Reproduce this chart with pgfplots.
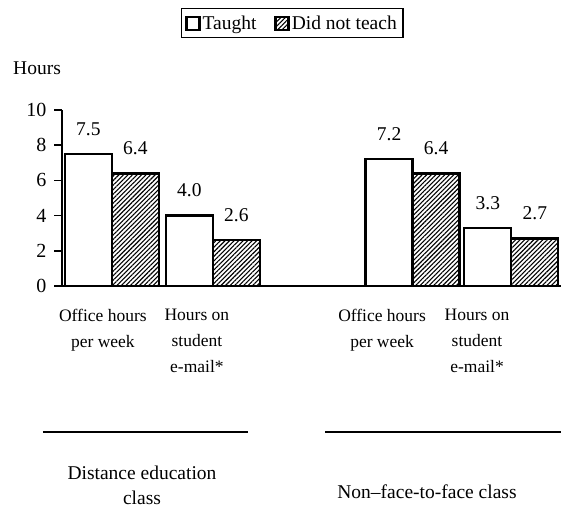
\documentclass[border=0pt]{standalone}
\usepackage{pgfplots}
\pgfplotsset{compat=1.18}
\usetikzlibrary{patterns.meta}
\usepackage{fontspec}
\setmainfont{Liberation Serif}

\begin{document}
\begin{tikzpicture}
\useasboundingbox (-62pt,-225pt) rectangle (499pt,286pt);
\begin{axis}[
  scale only axis, width=499pt, height=176pt,
  xmin=0, xmax=10.617, ymin=0, ymax=10,
  axis lines*=left,
  axis line style={-, line width=1.5pt},
  clip=false,
  ybar, bar width=1, bar shift=0pt,
  ytick={0,2,4,6,8,10},
  tick align=outside,
  major tick length=8pt,
  ytick style={line width=1.5pt, black},
  yticklabel style={font=\fontsize{20}{22}\selectfont, xshift=-4pt},
  /pgf/number format/assume math mode=true,
  xtick={0.87,2.87,6.81,8.83},
  xticklabels={{Office hours\\per week},{Hours on\\student\\e-mail*},{Office hours\\per week},{Hours on\\student\\e-mail*}},
  xticklabel style={align=center, font=\fontsize{17.5}{26}\selectfont, yshift=-12pt},
  xtick style={draw=none},
  point meta=explicit symbolic,
  nodes near coords,
  nodes near coords style={font=\fontsize{19.5}{22}\selectfont, yshift=14pt, black},
  legend style={at={(axis description cs:0.461,1.494)}, anchor=center, draw=black, line width=1.4pt,
    font=\fontsize{19.5}{22}\selectfont, inner xsep=4pt, inner ysep=5pt,
    /tikz/every even column/.append style={column sep=16pt}},
  legend columns=2,
  legend image code/.code={\draw[#1] (0pt,-7pt) rectangle (13pt,6pt);},
]
\addplot[draw=black, fill=white, line width=2.3pt] coordinates {
  (0.56,7.5) [7.5]
  (2.71,4.0) [4.0]
  (6.96,7.2) [7.2]
  (9.06,3.3) [3.3]
};
\addlegendentry{Taught}
\addplot[draw=black, line width=2.3pt, pattern={Lines[angle=45,distance=3.2pt,line width=1.1pt]}] coordinates {
  (1.56,6.4) [6.4]
  (3.71,2.6) [2.6]
  (7.96,6.4) [6.4]
  (10.06,2.7) [2.7]
};
\addlegendentry{Did not teach}
\end{axis}
\draw[line width=2pt] (-19pt,-146pt) -- (186pt,-146pt);
\draw[line width=2pt] (263pt,-146pt) -- (499pt,-146pt);
\node[align=center, font=\fontsize{19.5}{25}\selectfont] at (80pt,-199pt) {Distance education\\class};
\node[font=\fontsize{19.5}{22}\selectfont] at (365pt,-206pt) {Non--face-to-face class};
\node[anchor=west, inner sep=0pt, font=\fontsize{19.5}{22}\selectfont] at (-49pt,218pt) {Hours};
\end{tikzpicture}
\end{document}
